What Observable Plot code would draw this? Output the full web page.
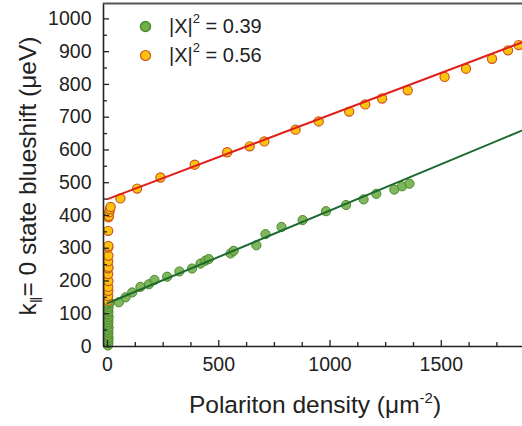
<!DOCTYPE html>
<html>
<head>
<meta charset="utf-8">
<script src="https://cdn.jsdelivr.net/npm/d3@7"></script>
<script src="https://cdn.jsdelivr.net/npm/@observablehq/plot@0.6"></script>
<style>
  html, body { margin: 0; padding: 0; background: #fff; }
  #chart { width: 522px; height: 426px; }
</style>
</head>
<body>
<div id="chart"></div>
<script>
// ---- data ----
const seriesNames = ["|X|\u00B2 = 0.39", "|X|\u00B2 = 0.56"];

// |X|^2 = 0.39 (green)
const greenX = [2, 4, 3, 5, 2, 4, 3, 5, 2, 4, 3, 5, 2, 4, 3, 5, 3, 6,
  10, 51, 81, 111, 148, 186, 211, 268, 323, 380, 418, 440, 455, 553, 567, 669, 710, 782, 877, 982, 1072, 1151, 1208, 1289, 1324, 1357];
const greenY = [3, 10, 18, 26, 34, 42, 50, 58, 66, 74, 82, 90, 98, 106, 114, 122, 130, 138,
  135, 135, 150, 165, 182, 190, 203, 213, 229, 238, 253, 262, 267, 284, 292, 309, 343, 365, 386, 413, 432, 449, 466, 479, 489, 497];

// |X|^2 = 0.56 (orange)
const orangeX = [3, 3, 4, 3, 4, 3, 3, 4, 3, 4, 3, 4, 3, 4, 6, 8, 11, 14,
  58, 133, 238, 392, 538, 639, 705, 845, 949, 1086, 1158, 1234, 1349, 1515, 1611, 1728, 1800, 1848];
const orangeY = [140, 154, 170, 182, 200, 221, 239, 243, 260, 277, 302, 307, 353, 394, 398, 410, 419, 426,
  452, 482, 516, 555, 593, 611, 626, 662, 687, 717, 739, 757, 782, 823, 848, 878, 904, 920];

// linear fits
const fitX = [0, 1865];
const greenFitY = [132, 660];
const redFitY = [450, 929];

// ticks
const xMajor = [0, 500, 1000, 1500];
const xMinor = [125, 250, 375, 625, 750, 875, 1125, 1250, 1375, 1625, 1750];
const yMajor = [0, 100, 200, 300, 400, 500, 600, 700, 800, 900, 1000];
const yMinor = [50, 150, 250, 350, 450, 550, 650, 750, 850, 950];

// ---- build tables ----
const green = greenX.map((x, i) => ({x, y: greenY[i]}));
const orange = orangeX.map((x, i) => ({x, y: orangeY[i]}));
const greenFit = fitX.map((x, i) => ({x, y: greenFitY[i]}));
const redFit = fitX.map((x, i) => ({x, y: redFitY[i]}));

const W = 522, H = 426;
const mL = 103, mT = 3, mR = 0, mB = 80;
const xDomain = [-18, 1865];
const yDomain = [0, 1047];
const plotW = W - mL - mR, plotH = H - mT - mB;

const greenFill = "#72ae4a", greenStroke = "#4a8a2c";
const orangeFill = "#ffc20e", orangeStroke = "#c9581c";
const redLine = "#e0201b", greenLine = "#1c6a2f";
const FONT = "Arial, 'Liberation Sans', Helvetica, sans-serif";

const chart = Plot.plot({
  width: W, height: H,
  marginLeft: mL, marginTop: mT, marginRight: mR, marginBottom: mB,
  style: {fontFamily: FONT, fontSize: "19px", background: "#fff", color: "#222"},
  x: {domain: xDomain, axis: null},
  y: {domain: yDomain, axis: null},
  marks: [
    Plot.dot(green, {x: "x", y: "y", r: 4.6, fill: greenFill, fillOpacity: 0.9, stroke: greenStroke, strokeWidth: 1}),
    Plot.dot(orange, {x: "x", y: "y", r: 4.6, fill: orangeFill, stroke: orangeStroke, strokeWidth: 1.2}),
    Plot.line(greenFit, {x: "x", y: "y", stroke: greenLine, strokeWidth: 2}),
    Plot.line(redFit, {x: "x", y: "y", stroke: redLine, strokeWidth: 2}),
    // inward ticks
    Plot.tickX(xMajor, {x: d => d, insetTop: plotH - 6, stroke: "#222", strokeWidth: 1.3}),
    Plot.tickX(xMinor, {x: d => d, insetTop: plotH - 4, stroke: "#222", strokeWidth: 1.3}),
    Plot.tickY(yMajor, {y: d => d, insetRight: plotW - 6, stroke: "#222", strokeWidth: 1.3}),
    Plot.tickY(yMinor, {y: d => d, insetRight: plotW - 4, stroke: "#222", strokeWidth: 1.3}),
    // frame lines
    Plot.ruleY([yDomain[0]], {stroke: "#222", strokeWidth: 1.6}),
    Plot.ruleX([xDomain[0]], {stroke: "#222", strokeWidth: 1.6}),
    Plot.ruleY([yDomain[1]], {stroke: "#555", strokeWidth: 2}),
    // tick labels
    Plot.axisX({ticks: xMajor, tickSize: 0, tickPadding: 11, fontSize: 19.5, label: null, tickFormat: d => String(d)}),
    Plot.axisY({ticks: yMajor, tickSize: 0, tickPadding: 12, fontSize: 19.5, label: null, tickFormat: d => String(d)}),
    // legend symbols
    Plot.dot([seriesNames[0]], {frameAnchor: "top-left", dx: 42, dy: 23, r: 5, fill: greenFill, stroke: greenStroke}),
    Plot.dot([seriesNames[1]], {frameAnchor: "top-left", dx: 42, dy: 52, r: 5, fill: orangeFill, stroke: orangeStroke, strokeWidth: 1.2})
  ]
});

document.getElementById("chart").appendChild(chart);

const svg = d3.select(chart);

// legend labels with real superscripts
seriesNames.forEach((name, i) => {
  const [base, rest] = name.split("\u00B2");
  const t = svg.append("text")
    .attr("x", 169).attr("y", 26 + i * 29)
    .attr("text-anchor", "start")
    .attr("dominant-baseline", "central")
    .attr("font-family", FONT).attr("font-size", 20).attr("fill", "#222");
  t.append("tspan").text(base);
  t.append("tspan").attr("font-size", 13).attr("dy", -8).text("2");
  t.append("tspan").attr("dy", 8).text(rest);
});

// axis titles with sub/superscripts
const xt = svg.append("text")
  .attr("x", 315).attr("y", 413)
  .attr("text-anchor", "middle")
  .attr("font-family", FONT).attr("font-size", 24.5).attr("fill", "#222");
xt.append("tspan").text("Polariton density (\u03BCm");
xt.append("tspan").attr("font-size", 15).attr("dy", -10).text("-2");
xt.append("tspan").attr("dy", 10).text(")");

const yt = svg.append("text")
  .attr("transform", "translate(36,176) rotate(-90)")
  .attr("text-anchor", "middle")
  .attr("font-family", FONT).attr("font-size", 24.5).attr("fill", "#222");
yt.append("tspan").text("k");
yt.append("tspan").attr("font-size", 16).attr("dy", 6).text("\u2016");
yt.append("tspan").attr("dy", -6).text("= 0 state blueshift (\u03BCeV)");
</script>
</body>
</html>
